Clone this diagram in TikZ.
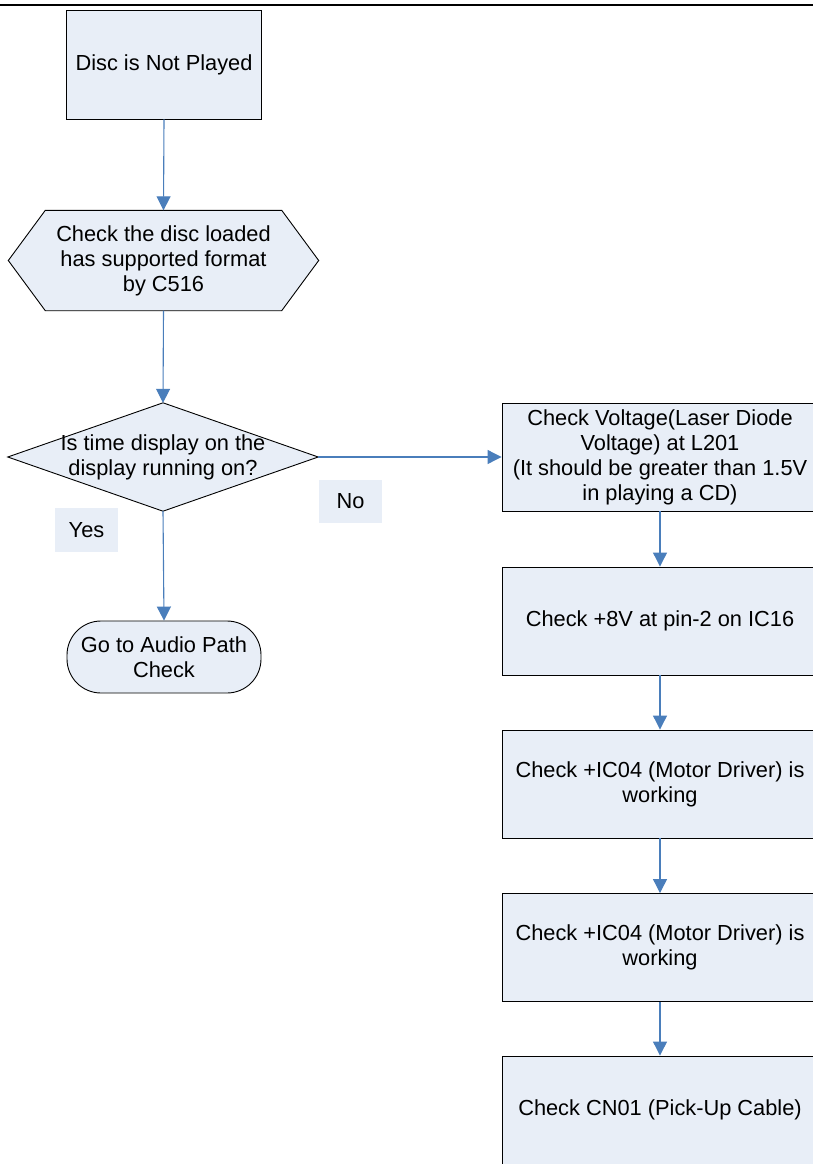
\documentclass[tikz,border=0pt]{standalone}
\usepackage{fontspec}
\setmainfont{Liberation Sans}
\usetikzlibrary{arrows.meta,backgrounds}
\definecolor{boxfill}{RGB}{232,238,247}
\definecolor{connblue}{RGB}{74,126,187}
\tikzset{
  txt/.style={font=\fontsize{21.8}{25}\selectfont, align=center, inner sep=0pt},
  procbox/.style={txt, draw=black, line width=0.9pt, fill=boxfill, minimum width=316pt, minimum height=108pt},
  startbox/.style={txt, draw=black, line width=0.9pt, fill=boxfill, minimum width=195pt, minimum height=109pt},
  termbox/.style={txt, draw=black, line width=0.9pt, fill=boxfill, rounded corners=34pt, minimum width=194pt, minimum height=72pt},
  labelbox/.style={txt, fill=boxfill, minimum width=63pt, minimum height=43pt},
  outline/.style={draw=black, line width=0.9pt, fill=boxfill},
  conn/.style={draw=connblue, line width=1.1pt, -{Triangle[width=14pt,length=14pt]}}
}
\begin{document}
\begin{tikzpicture}[x=1pt,y=-1pt]
\useasboundingbox (0,0) rectangle (813,1164);
\clip (0,0) rectangle (813,1164);
\draw[line width=2pt, black] (0,5.5) -- (813,5.5);

\node[startbox] (b1) at (164,64.5) {Disc is Not Played};

\node[txt, minimum width=310pt, minimum height=100pt] (hex) at (163.5,260.5)
  {Check the disc loaded\\has supported format\\by C516};
\begin{pgfonlayer}{background}
\draw[outline] (hex.west) -- ([xshift=37pt]hex.north west) -- ([xshift=-37pt]hex.north east)
  -- (hex.east) -- ([xshift=-37pt]hex.south east) -- ([xshift=37pt]hex.south west) -- cycle;
\end{pgfonlayer}

\node[txt, minimum width=310pt, minimum height=108pt] (dia) at (163,457)
  {Is time display on the\\display running on?};
\begin{pgfonlayer}{background}
\draw[outline] (dia.west) -- (dia.north) -- (dia.east) -- (dia.south) -- cycle;
\end{pgfonlayer}

\node[labelbox] (no) at (350.5,501) {No};
\node[labelbox, minimum height=44pt] (yes) at (86.5,530) {Yes};

\node[termbox] (term) at (164,657) {Go to Audio Path\\Check};

\node[procbox] (r1) at (660,457) {Check Voltage(Laser Diode\\Voltage) at L201\\(It should be greater than 1.5V\\in playing a CD)};
\node[procbox] (r2) at (660,621) {Check +8V at pin-2 on IC16};
\node[procbox] (r3) at (660,784) {Check +IC04 (Motor Driver) is\\working};
\node[procbox] (r4) at (660,947.5) {Check +IC04 (Motor Driver) is\\working};
\node[procbox] (r5) at (660,1110) {Check CN01 (Pick-Up Cable)};

\draw[conn] (b1.south) -- (hex.north);
\draw[conn] (hex.south) -- (dia.north);
\draw[conn] (dia.south) -- (term.north);
\draw[conn] (dia.east) -- (r1.west);
\draw[conn] (r1.south) -- (r2.north);
\draw[conn] (r2.south) -- (r3.north);
\draw[conn] (r3.south) -- (r4.north);
\draw[conn] (r4.south) -- (r5.north);
\end{tikzpicture}
\end{document}
